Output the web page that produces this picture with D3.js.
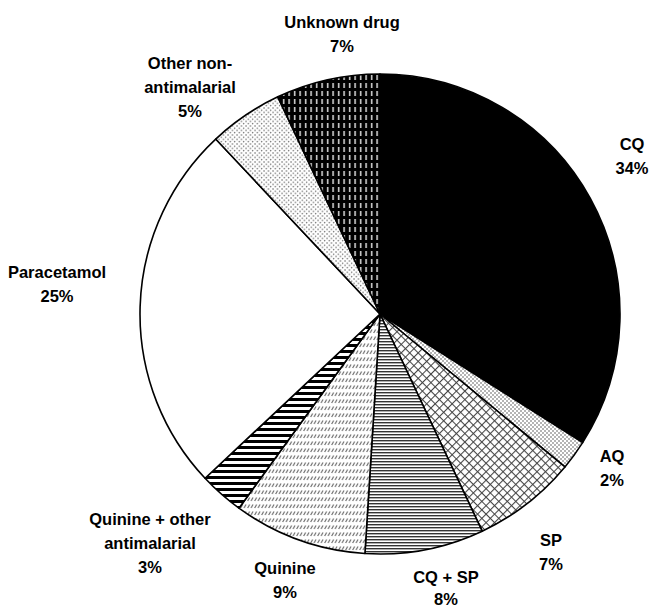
<!DOCTYPE html>
<html><head><meta charset="utf-8">
<script src="https://cdn.jsdelivr.net/npm/d3@7"></script>
<style>body{margin:0;background:#fff}svg{display:block}</style>
</head><body>
<svg id="c" width="652" height="607"></svg>
<script>
const categories = ["CQ","AQ","SP","CQ + SP","Quinine","Quinine + other antimalarial","Paracetamol","Other non-antimalarial","Unknown drug"];
const values = [34,2,7,8,9,3,25,5,7];
const labelLines = [["CQ","34%"],["AQ","2%"],["SP","7%"],["CQ + SP","8%"],["Quinine","9%"],["Quinine + other","antimalarial","3%"],["Paracetamol","25%"],["Other non-","antimalarial","5%"],["Unknown drug","7%"]];
const fills = ["#000","url(#dotA)","url(#cross)","url(#hlines)","url(#dash)","url(#stripes)","#fff","url(#dotB)","url(#vdash)"];
// label anchor positions (x,y of first line)
const labelPos = [[632,150],[612,462],[551,546],[446,583],[285,574],[150,525],[57,278],[190,69],[342,28]];

const svg = d3.select("#c");
const defs = svg.append("defs");
function pat(id,w,h,extra){const p=defs.append("pattern").attr("id",id).attr("patternUnits","userSpaceOnUse").attr("width",w).attr("height",h);if(extra)p.attr("patternTransform",extra);return p;}
let p;
p=pat("dotA",4,4); p.append("rect").attr("width",4).attr("height",4).attr("fill","#fff");
p.append("circle").attr("cx",1).attr("cy",1).attr("r",0.75).attr("fill","#444");
p.append("circle").attr("cx",3).attr("cy",3).attr("r",0.75).attr("fill","#444");
p=pat("dotB",4.5,4.5); p.append("rect").attr("width",4.5).attr("height",4.5).attr("fill","#fff");
p.append("circle").attr("cx",1).attr("cy",1).attr("r",0.7).attr("fill","#555");
p.append("circle").attr("cx",3.25).attr("cy",3.25).attr("r",0.7).attr("fill","#555");
p=pat("cross",6,6,"rotate(45)"); p.append("rect").attr("width",6).attr("height",6).attr("fill","#fff");
p.append("line").attr("x1",0).attr("y1",0.5).attr("x2",6).attr("y2",0.5).attr("stroke","#444").attr("stroke-width",1.1);
p.append("line").attr("x1",0.5).attr("y1",0).attr("x2",0.5).attr("y2",6).attr("stroke","#444").attr("stroke-width",1.1);
p=pat("hlines",8,3); p.append("rect").attr("width",8).attr("height",3).attr("fill","#fff");
p.append("rect").attr("y",0).attr("width",8).attr("height",1.4).attr("fill","#333");
p=pat("stripes",8,6); p.append("rect").attr("width",8).attr("height",6).attr("fill","#fff");
p.append("rect").attr("y",0).attr("width",8).attr("height",3).attr("fill","#000");
p=pat("dash",3.5,7); p.append("rect").attr("width",3.5).attr("height",7).attr("fill","#fff");
p.append("line").attr("x1",0.6).attr("y1",5).attr("x2",2.6).attr("y2",1.5).attr("stroke","#555").attr("stroke-width",1);
p=pat("vdash",5.5,8); p.append("rect").attr("width",5.5).attr("height",8).attr("fill","#000");
p.append("rect").attr("x",2).attr("y",1).attr("width",1.3).attr("height",5).attr("fill","#fff");

const cx=380, cy=314, r=240;
const pie = d3.pie().sort(null).value(d=>d)(values);
const arc = d3.arc().innerRadius(0).outerRadius(r);
const g = svg.append("g").attr("transform",`translate(${cx},${cy})`);
g.selectAll("path").data(pie).join("path")
  .attr("d",arc).attr("fill",(d,i)=>fills[i])
  .attr("stroke","#000").attr("stroke-width",1.6).attr("stroke-linejoin","round");

const lab = svg.append("g").attr("font-family","'Liberation Sans', Arial, sans-serif").attr("font-weight","bold").attr("font-size",16.5).attr("fill","#000").attr("text-anchor","middle");
labelLines.forEach((lines,i)=>{
  const t = lab.append("text").attr("x",labelPos[i][0]).attr("y",labelPos[i][1]);
  lines.forEach((s,j)=>t.append("tspan").attr("x",labelPos[i][0]).attr("dy",j?(i===3?22:24):0).text(s));
});
</script>
</body></html>
